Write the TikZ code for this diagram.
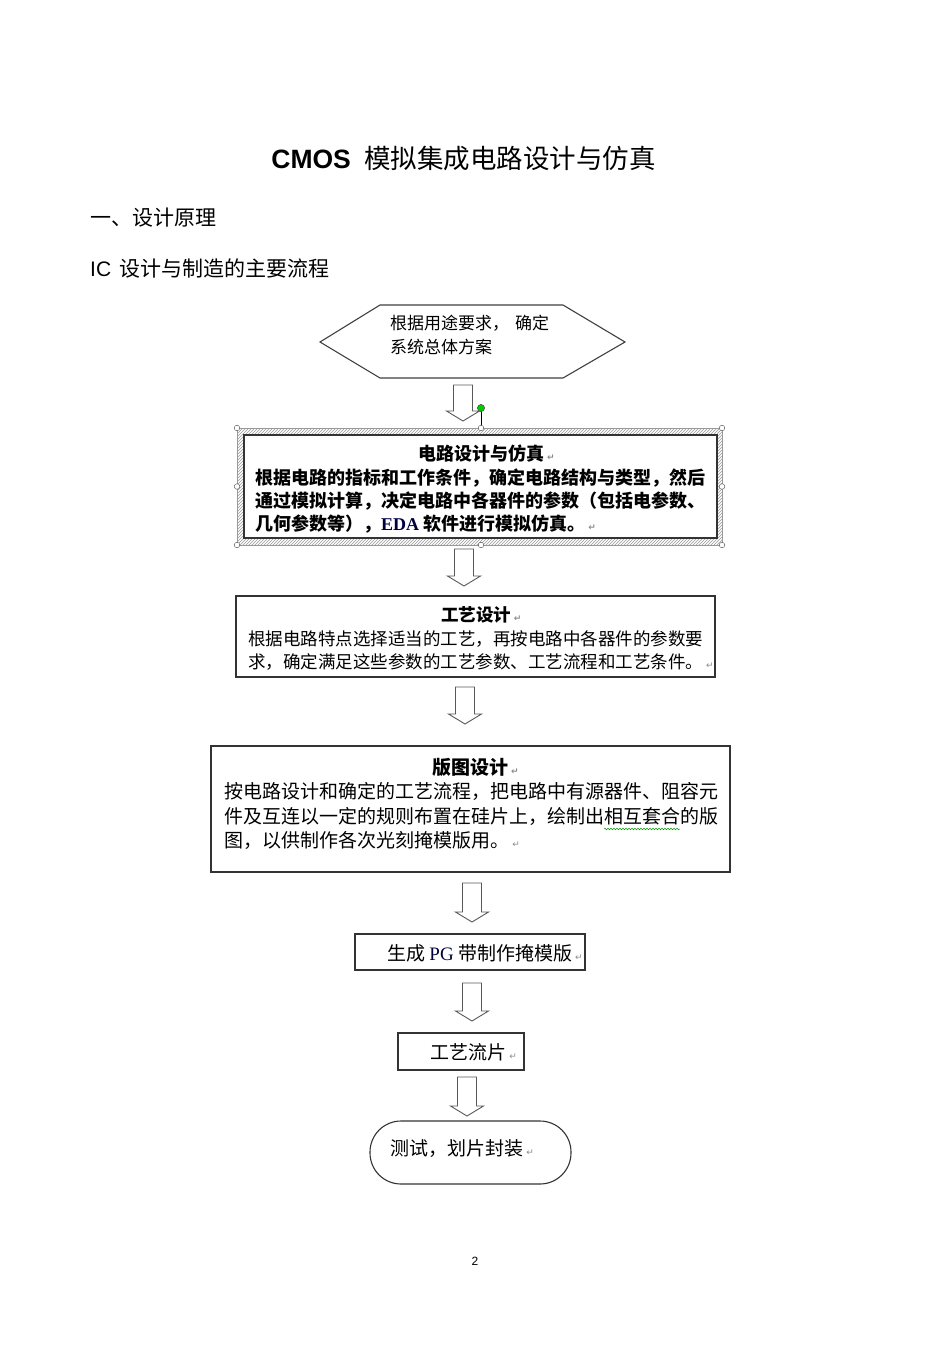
\documentclass[tikz,border=0pt]{standalone}
\usepackage{fontspec}
\setmainfont{Noto Sans CJK SC}
\newfontfamily\arialf{Liberation Sans}
\newfontfamily\tnrf{Liberation Serif}
\newfontfamily\dvf{DejaVu Sans}
\usetikzlibrary{patterns,decorations.pathmorphing}
\newcommand\parmark{\rlap{\,{\dvf\fontsize{9}{9}\selectfont\color{black!45}↵}}}
\newcommand\blockarrow[3]{%
  \draw[blk] (#1-9.5,#2) -- (#1+9.5,#2) -- (#1+9.5,#3-10) -- (#1+16.5,#3-10)
    -- (#1,#3) -- (#1-16.5,#3-10) -- (#1-9.5,#3-10) -- cycle;}
\tikzset{
  box/.style={draw=black!80, line width=1.1pt, fill=white, inner sep=0pt},
  hexline/.style={draw=black!75, line width=1.1pt, line join=miter},
  blk/.style={draw=black!65, line width=0.9pt, fill=white, line join=miter},
  txt/.style={inner sep=0pt, anchor=base west},
  ctxt/.style={inner sep=0pt, anchor=base},
  fa/.style={font=\fontsize{17}{20}\selectfont},
  fb/.style={font=\fontsize{18}{20}\selectfont\bfseries},
  fc/.style={font=\fontsize{17.5}{20}\selectfont},
  fd/.style={font=\fontsize{19}{22}\selectfont},
  handle/.style={draw=black!60, fill=white, line width=0.5pt},
}
\begin{document}
\begin{tikzpicture}[x=1pt,y=-1pt]
\fill[white] (0,0) rectangle (950,1346);
\useasboundingbox (0,0) rectangle (950,1346);

% headings
\node[ctxt, font=\fontsize{26.5}{30}\selectfont] (title) at (463.5,168)
  {{\arialf\bfseries CMOS}\hspace{0.5em}模拟集成电路设计与仿真};
\node[txt, font=\fontsize{21}{24}\selectfont] (sec) at (90,225) {一、设计原理};
\node[txt, font=\fontsize{21}{24}\selectfont] (sub) at (90,276)
  {{\arialf IC}\hspace{8pt}设计与制造的主要流程};

% hexagon
\draw[hexline] (320,342) -- (380,305) -- (563,305) -- (625,342) -- (563,378) -- (380,378) -- cycle;
\node[txt,fa] (h1) at (390,329.5) {根据用途要求，\hspace{6pt}确定};
\node[txt,fa] (h2) at (390,353.5) {系统总体方案};

% arrow 1 and selection frame
\blockarrow{463}{385}{421}
\fill[pattern=north east lines, pattern color=black!40, even odd rule]
  (237,428) rectangle (722,545) (244,435) rectangle (717,538);
\draw[black!40, line width=0.4pt] (237,428) rectangle (722,545);
\draw[black, line width=0.8pt] (481,411) -- (481,428);
\node[box, minimum width=473, minimum height=103] (b2) at (480.5,486.5) {};
\foreach \hx/\hy in {237/428,481/428,722/428,237/486.5,722/486.5,237/545,481/545,722/545}
  \draw[handle] (\hx,\hy) circle (2.8);
\draw[draw=black!70, fill=green!80!black, line width=0.5pt] (481,408) circle (3.6);

\node[ctxt,fb] (b2t) at (481,460) {电路设计与仿真\parmark};
\node[txt,fb] (b2l1) at (255,484) {根据电路的指标和工作条件，确定电路结构与类型，然后};
\node[txt,fb] (b2l2) at (255,507) {通过模拟计算，决定电路中各器件的参数（包括电参数、};
\node[txt,fb] (b2l3) at (255,530) {几何参数等），{\tnrf\bfseries\color{blue!25!black}EDA} 软件进行模拟仿真。\parmark};

% arrow 2, box 3
\blockarrow{464}{549}{586}
\node[box, minimum width=479, minimum height=81] (b3) at (475.5,636.5) {};
\node[ctxt,font=\fontsize{17.5}{20}\selectfont\bfseries] (b3t) at (476,621) {工艺设计\parmark};
\node[txt,fc] (b3l1) at (248,645) {根据电路特点选择适当的工艺，再按电路中各器件的参数要};
\node[txt,fc] (b3l2) at (248,668) {求，确定满足这些参数的工艺参数、工艺流程和工艺条件。\parmark};

% arrow 3, box 4
\blockarrow{465}{687}{724}
\node[box, minimum width=519, minimum height=126] (b4) at (470.5,809) {};
\node[ctxt,font=\fontsize{19}{22}\selectfont\bfseries] (b4t) at (470,774) {版图设计\parmark};
\node[txt,fd] (b4l1) at (224,798) {按电路设计和确定的工艺流程，把电路中有源器件、阻容元};
\node[txt,fd] (b4l2) at (224,823) {件及互连以一定的规则布置在硅片上，绘制出相互套合的版};
\node[txt,fd] (b4l3) at (224,847) {图，以供制作各次光刻掩模版用。\parmark};
\draw[green!60!black, line width=0.5pt, decorate, decoration={snake,amplitude=0.8pt,segment length=3pt}]
  (604,829) -- (680,829);

% arrow 4, box 5
\blockarrow{472}{883}{922}
\node[box, minimum width=230, minimum height=36] (b5) at (470,952) {};
\node[txt,fd] (b5t) at (387,960) {生成 {\tnrf\color{blue!25!black}PG} 带制作掩模版\parmark};

% arrow 5, box 6
\blockarrow{472}{983}{1021}
\node[box, minimum width=126, minimum height=37] (b6) at (461,1051.5) {};
\node[txt,fd] (b6t) at (430,1059) {工艺流片\parmark};

% arrow 6, terminal
\blockarrow{467}{1077}{1116}
\node[box, minimum width=201, minimum height=63, rounded corners=31pt] (b7) at (470.5,1152.5) {};
\node[txt,fd] (b7t) at (390,1155) {测试，划片封装\parmark};

% page number
\node[ctxt, font=\arialf\fontsize{12}{14}\selectfont] (pg) at (475,1265) {2};
\end{tikzpicture}
\end{document}
